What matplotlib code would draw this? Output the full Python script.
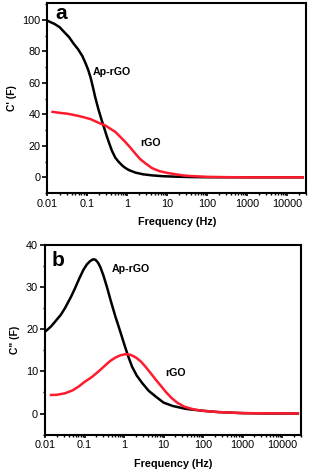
import matplotlib
matplotlib.use("Agg")
import matplotlib.pyplot as plt
from matplotlib.ticker import LogLocator, MultipleLocator, FixedLocator, FixedFormatter, NullFormatter

plt.rcParams['font.family'] = ['Liberation Sans', 'DejaVu Sans']

# ---- Data ----
# Panel a: C' (F)
a_ap_f = [0.01, 0.015, 0.02, 0.027, 0.035, 0.045, 0.058, 0.075, 0.09, 0.104, 0.12, 0.14, 0.155,
          0.19, 0.23, 0.27, 0.31, 0.36, 0.41, 0.5, 0.6, 0.74, 0.9, 1.1, 1.6, 2.5, 4.3, 8,
          16.6, 40, 100, 1000, 25000]
a_ap_c = [99.5, 97.5, 95.5, 92, 89, 85, 81.5, 77, 72.5, 68.5, 63.5, 56.5, 51.5,
          43, 36, 30.5, 25.7, 21, 17, 12.5, 10, 7.6, 5.9, 4.6, 3.0, 1.9, 1.2, 0.7,
          0.4, 0.15, 0.05, 0.0, 0.0]
a_rgo_f = [0.0134, 0.02, 0.03, 0.039, 0.06, 0.086, 0.12, 0.155, 0.21, 0.28, 0.37, 0.5,
           0.65, 0.89, 1.2, 1.6, 2.1, 2.9, 4.2, 6.3, 10, 16.6, 25, 40, 100, 300, 1000, 25000]
a_rgo_c = [41.6, 41, 40.5, 40, 39, 38, 37, 35.7, 34.2, 33, 31, 28.9,
           26, 22.5, 18.8, 15, 11.6, 8.7, 5.8, 4.0, 2.8, 1.9, 1.2, 0.8, 0.3, 0.1, 0.0, 0.0]

# Panel b: C" (F)
b_ap_f = [0.01, 0.014, 0.018, 0.025, 0.032, 0.045, 0.058, 0.075, 0.095, 0.115, 0.14, 0.165,
          0.189, 0.22, 0.25, 0.3, 0.37, 0.47, 0.61, 0.8, 1.0, 1.25, 1.6, 2.1, 2.9, 4.2,
          6.4, 10, 17, 37, 100, 240, 1000, 3000, 25000]
b_ap_c = [19.4, 20.6, 21.8, 23.4, 25.0, 27.6, 29.8, 32.2, 34.2, 35.4, 36.2, 36.6,
          36.5, 35.8, 34.8, 32.8, 30, 26.5, 22.9, 19.5, 16.6, 13.8, 11.1, 9.0, 7.2, 5.4,
          4.0, 2.6, 1.8, 1.1, 0.65, 0.35, 0.1, 0.03, 0.0]
b_rgo_f = [0.0142, 0.02, 0.032, 0.05, 0.071, 0.1, 0.155, 0.24, 0.34, 0.45, 0.61, 0.8,
           1.1, 1.5, 2.0, 2.7, 3.5, 4.8, 6.4, 8.5, 11.5, 15.5, 22, 34, 60, 100, 240,
           1000, 25000]
b_rgo_c = [4.4, 4.45, 4.8, 5.5, 6.4, 7.5, 8.7, 10.2, 11.5, 12.5, 13.3, 13.8,
           14.1, 13.9, 13.3, 12.3, 11.1, 9.5, 8.0, 6.6, 5.1, 3.8, 2.6, 1.6, 0.95, 0.65, 0.35,
           0.1, 0.0]

xticks = [0.01, 0.1, 1, 10, 100, 1000, 10000]
xticklabels = ["0.01", "0.1", "1", "10", "100", "1000", "10000"]

BLACK = "#000000"
RED = "#ff1a2e"

fig = plt.figure(figsize=(3.09, 4.72), dpi=100)
ax1 = fig.add_axes([0.1537, 0.591, 0.990 - 0.1537, 0.9943 - 0.591])
ax2 = fig.add_axes([0.1456, 0.0792, 0.974 - 0.1456, 0.481 - 0.0792])


def style(ax, ylabel, ymaj, ymin):
    ax.set_xscale('log')
    ax.set_xlim(0.01, 30000)
    ax.xaxis.set_major_locator(FixedLocator(xticks))
    ax.xaxis.set_major_formatter(FixedFormatter(xticklabels))
    ax.xaxis.set_minor_locator(LogLocator(base=10, subs=range(2, 10), numticks=20))
    ax.xaxis.set_minor_formatter(NullFormatter())
    ax.yaxis.set_major_locator(MultipleLocator(ymaj))
    ax.yaxis.set_minor_locator(MultipleLocator(ymin))
    for s in ax.spines.values():
        s.set_linewidth(1.5)
    ax.tick_params(axis='both', which='major', direction='out', labelsize=7.8, width=1.2, pad=1.5)
    ax.tick_params(axis='y', which='major', length=3.5)
    ax.tick_params(axis='x', which='major', length=2.5)
    ax.tick_params(axis='both', which='minor', direction='out', length=1.6, width=1.0)
    ax.set_xlabel("Frequency (Hz)", fontsize=7.8, fontweight='bold', labelpad=6)
    ax.set_ylabel(ylabel, fontsize=7.5, fontweight='bold', labelpad=4)


# Panel a
ax1.plot(a_ap_f, a_ap_c, color=BLACK, lw=1.8)
ax1.plot(a_rgo_f, a_rgo_c, color=RED, lw=1.8)
ax1.set_ylim(-10, 111)
style(ax1, "C' (F)", 20, 10)
ax1.text(0.40, 67, "Ap-rGO", fontsize=7.7, fontweight='bold', ha='center', va='center')
ax1.text(3.8, 22, "rGO", fontsize=7.7, fontweight='bold', ha='center', va='center')
ax1.text(0.0225, 104, "a", fontsize=15, fontweight='bold', ha='center', va='center')

# Panel b
ax2.plot(b_ap_f, b_ap_c, color=BLACK, lw=1.8)
ax2.plot(b_rgo_f, b_rgo_c, color=RED, lw=1.8)
ax2.set_ylim(-5, 40)
style(ax2, 'C" (F)', 10, 5)
ax2.text(1.47, 34.4, "Ap-rGO", fontsize=7.7, fontweight='bold', ha='center', va='center')
ax2.text(20.7, 9.7, "rGO", fontsize=7.7, fontweight='bold', ha='center', va='center')
ax2.text(0.0215, 36.2, "b", fontsize=15, fontweight='bold', ha='center', va='center')

fig.savefig("out.png", dpi=100)
